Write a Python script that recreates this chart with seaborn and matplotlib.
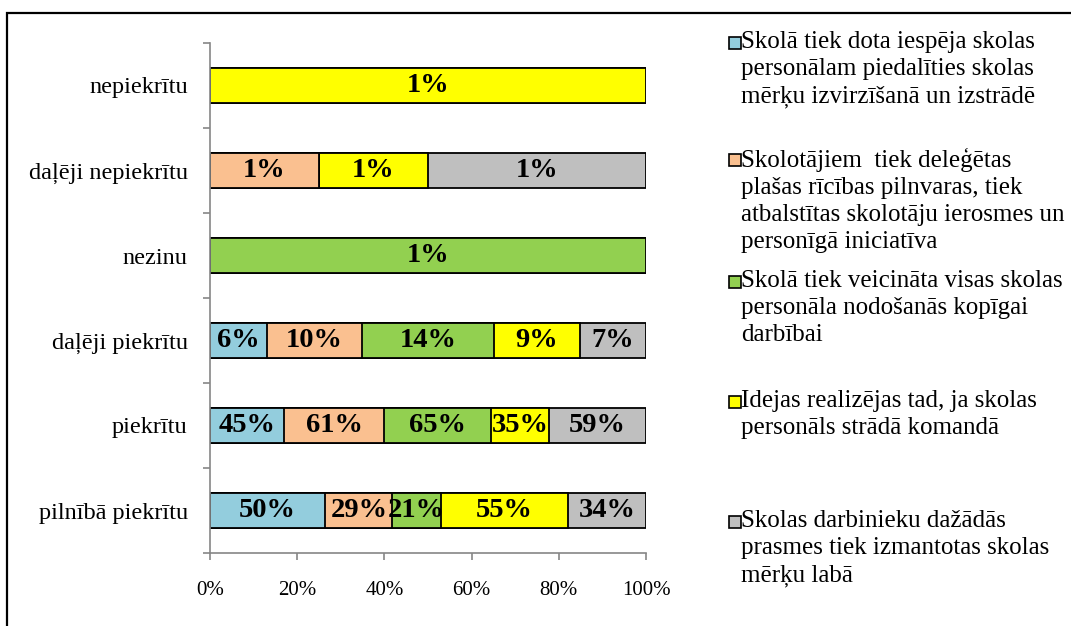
import numpy as np
import matplotlib.pyplot as plt
from matplotlib.patches import Rectangle
from matplotlib.ticker import FuncFormatter
import seaborn as sns

# answer categories, top to bottom
categories = [
    "nepiekrītu",
    "daļēji nepiekrītu",
    "nezinu",
    "daļēji piekrītu",
    "piekrītu",
    "pilnībā piekrītu",
]

series_names = [
    "Skolā tiek dota iespēja skolas\npersonālam piedalīties skolas\nmērķu izvirzīšanā un izstrādē",
    "Skolotājiem  tiek deleģētas\nplašas rīcības pilnvaras, tiek\natbalstītas skolotāju ierosmes un\npersonīgā iniciatīva",
    "Skolā tiek veicināta visas skolas\npersonāla nodošanās kopīgai\ndarbībai",
    "Idejas realizējas tad, ja skolas\npersonāls strādā komandā",
    "Skolas darbinieku dažādās\nprasmes tiek izmantotas skolas\nmērķu labā",
]

# % of respondents per statement (same order as categories)
merku_izvirzisana = [0, 0, 0, 6, 45, 50]
pilnvaras = [0, 0.5, 0, 10, 61, 29]
nodosanas = [0, 0, 1, 14, 65, 21]
komanda = [1, 0.5, 0, 9, 35, 55]
prasmes = [0, 1, 0, 7, 59, 34]

colors = ["#93CDDD", "#FAC090", "#92D050", "#FFFF00", "#BFBFBF"]

values = np.array([merku_izvirzisana, pilnvaras, nodosanas, komanda, prasmes]).T
shares = values / values.sum(axis=1, keepdims=True) * 100
cum = shares.cumsum(axis=1)

sns.set_theme(style="white")
plt.rcParams["font.family"] = ["Liberation Serif", "DejaVu Serif"]
plt.rcParams["text.color"] = "black"

W, H = 1071, 626
fig = plt.figure(figsize=(W / 100, H / 100), dpi=100)
ax = fig.add_axes([210 / W, 1 - 553 / H, (646 - 210) / W, (553 - 43) / H])

# stacked 100% bars: draw cumulative totals back to front
for i in reversed(range(len(series_names))):
    sns.barplot(
        x=cum[:, i],
        y=categories,
        orient="h",
        color=colors[i],
        saturation=1,
        width=0.41,
        edgecolor="black",
        linewidth=1.3,
        ax=ax,
    )

for r in range(len(categories)):
    for i in range(len(series_names)):
        v = values[r, i]
        if v <= 0:
            continue
        ax.text(
            cum[r, i] - shares[r, i] / 2, r, f"{int(v + 0.5)}%",
            ha="center", va="center", fontsize=20.5, fontweight="bold", color="black",
        )

grey = "#868686"
ax.set_xlim(0, 100)
ax.set_ylim(len(categories) - 0.5, -0.5)
ax.set_xticks(np.arange(0, 101, 20))
ax.xaxis.set_major_formatter(FuncFormatter(lambda x, _: f"{x:.0f}%"))
ax.set_yticks(np.arange(-0.5, len(categories), 1), minor=True)
ax.set_xlabel("")
ax.set_ylabel("")
for side in ["top", "right"]:
    ax.spines[side].set_visible(False)
for side in ["left", "bottom"]:
    ax.spines[side].set_color(grey)
    ax.spines[side].set_linewidth(1.2)
ax.tick_params(axis="y", which="major", length=0, pad=16, labelsize=17.5, labelcolor="black")
ax.tick_params(axis="y", which="minor", left=True, length=5, width=1.2, color=grey, direction="out")
ax.tick_params(axis="x", bottom=True, length=5, width=1.2, color=grey, direction="out",
               pad=15, labelsize=15, labelcolor="black")

# legend with Excel-like uneven spacing
legend_line_centers = [43, 160, 282, 402, 522]
for name, col, yc in zip(series_names, colors, legend_line_centers):
    fig.text(741 / W, 1 - (yc - 12) / H, name, ha="left", va="top", fontsize=18,
             linespacing=1.3, color="black")
    fig.add_artist(Rectangle((729 / W, 1 - (yc + 6) / H), 12 / W, 12 / H,
                             transform=fig.transFigure, facecolor=col,
                             edgecolor="black", linewidth=1.2))

# outer frame
fig.add_artist(Rectangle((7 / W, -0.1), 1.2, 1.1 - 13 / H, transform=fig.transFigure,
                         fill=False, edgecolor="black", linewidth=1.6, clip_on=False))

fig.savefig("out.png", dpi=100)
